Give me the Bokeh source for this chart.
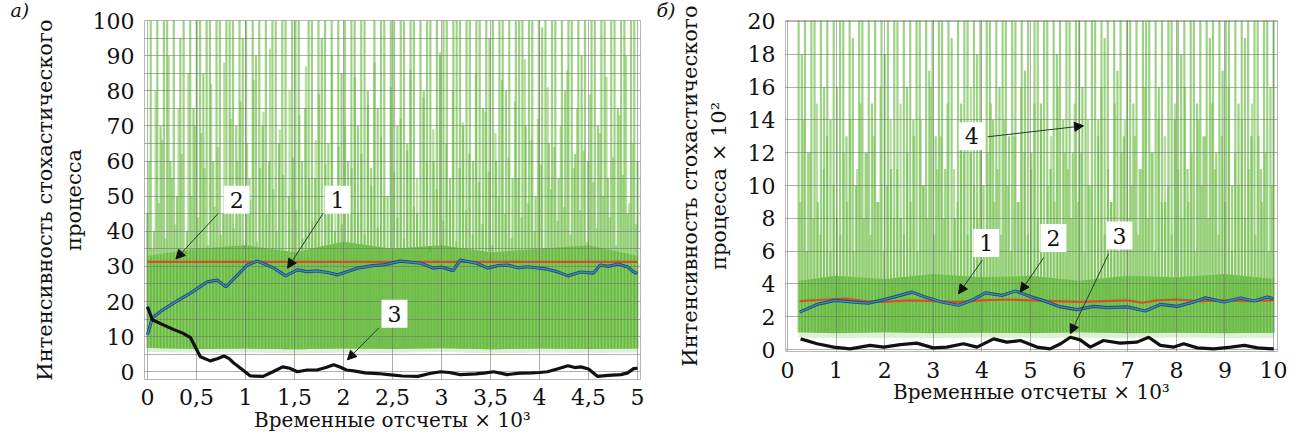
import numpy as np
from bokeh.plotting import figure
from bokeh.models import FixedTicker, Arrow, NormalHead, Label, Range1d
from bokeh.layouts import row
from bokeh.embed import file_html
from bokeh.resources import INLINE

# ---------------- panel а) ----------------
a_x_ticks = [0, 0.5, 1, 1.5, 2, 2.5, 3, 3.5, 4, 4.5, 5]
a_x_labels = ["0", "0,5", "1", "1,5", "2", "2,5", "3", "3,5", "4", "4,5", "5"]
a_y_ticks = [0, 10, 20, 30, 40, 50, 60, 70, 80, 90, 100]
a_y_grid = [0, 5, 10, 15, 20, 25, 30, 35, 40, 45, 50, 55, 60, 65, 70, 75, 80, 85, 90, 95, 100]

# green process (curve 4): tall spike peaks, evenly spaced samples over 0..5
a_spikes = [45, 110, 40, 120, 70, 115, 105, 60, 120, 50, 95, 110, 40, 115, 75,
            120, 110, 85, 115, 105, 60, 120, 118, 45, 110, 100, 120, 70, 110, 95,
            110, 55, 120, 90, 115, 70, 112, 60, 120, 100, 65, 118, 108, 50, 115,
            105, 120, 60, 75, 115, 110, 55, 120, 95, 118, 65, 110, 40, 120, 85,
            115, 60, 118, 105, 70, 120, 112, 80, 58, 116, 75, 110, 120, 50, 108,
            120, 70, 114, 118, 65, 100, 120, 45, 110, 80, 118, 106, 60, 120, 90,
            115, 110, 55, 120, 100, 118, 70, 112, 120, 60, 105, 118, 75, 120, 95,
            112, 60, 118, 106, 80, 120, 55, 114, 100, 120, 70, 116, 110, 50, 120,
            98, 118, 65, 112, 120, 55, 110, 80, 118, 106, 62, 120, 90, 115, 60,
            118, 108, 70, 120, 100, 55, 114, 120, 75, 110, 118, 45, 105, 120, 60]
# intermediate peaks between the tall ones
a_spikes2 = [60, 35, 80, 48, 66, 38, 90, 55, 42, 75, 62, 33, 85, 50, 70,
             44, 68, 58, 36, 82, 47, 64, 39, 88, 53, 72, 41, 60, 77, 35,
             65, 49, 83, 37, 58, 74, 45, 92, 52, 40, 69, 56, 34, 80, 61,
             46, 73, 38, 87, 55, 43, 66, 79, 36, 59, 48, 90, 51, 64, 42,
             70, 37, 58, 84, 45, 62, 39, 76, 53, 88, 41, 67, 50, 35, 81,
             57, 44, 72, 38, 63, 86, 47, 55, 40, 78, 60, 34, 69, 52, 91,
             43, 65, 49, 80, 37, 58, 71, 46, 62, 39, 85, 54, 42, 74, 57,
             36, 68, 50, 83, 45, 61, 38, 77, 55, 44, 89, 48, 66, 40, 72,
             59, 35, 81, 52, 64, 43, 70, 47, 86, 39, 58, 75, 46, 63, 37,
             79, 54, 41, 68, 50, 84, 44, 61, 36, 73, 56, 90, 48, 65, 42]
a_env_x = [0, 0.5, 1, 1.5, 2, 2.5, 3, 3.5, 4, 4.5, 5]
a_floor = [6.8, 6.5, 6.6, 6.4, 6.6, 6.5, 6.7, 6.4, 6.6, 6.5, 6.6]
a_pale = [5.6, 5.4, 5.5, 5.3, 5.5, 5.4, 5.6, 5.3, 5.5, 5.4, 5.5]
a_mid = [33, 35, 36, 34, 37, 35, 36, 34, 35, 36, 33]

a_red_x = [0, 5]
a_red_y = [31.3, 31.3]

a_blue_x = [0, 0.05, 0.15, 0.27, 0.44, 0.61, 0.71, 0.8, 0.92, 1.02, 1.12, 1.2, 1.29, 1.41,
            1.53, 1.63, 1.73, 1.85, 1.94, 2.05, 2.14, 2.3, 2.42, 2.58, 2.79, 2.92, 3.0,
            3.12, 3.19, 3.36, 3.47, 3.57, 3.67, 3.78, 3.88, 4.08, 4.18, 4.29, 4.42, 4.55,
            4.62, 4.7, 4.8, 4.9, 4.96, 5.0]
a_blue_y = [10.5, 15.3, 17.5, 19.6, 22.4, 25.6, 26.1, 24.2, 27.6, 30.4, 31.5, 30.6, 29.5, 27.3,
            29, 28.5, 28.7, 28.2, 27.6, 28.6, 29.5, 30.2, 30.5, 31.5, 30.9, 29.5, 29.8,
            28.8, 31.8, 30.9, 29.5, 30.2, 30.4, 29.6, 29.9, 29.2, 28.5, 27.3, 28.4, 28.1,
            30.4, 30.0, 30.7, 29.8, 28.4, 28.0]

a_black_x = [0, 0.05, 0.15, 0.27, 0.36, 0.44, 0.54, 0.64, 0.72, 0.78, 0.83, 0.88, 0.96, 1.05,
             1.18, 1.28, 1.38, 1.45, 1.53, 1.63, 1.73, 1.82, 1.9, 1.97, 2.03, 2.12, 2.22,
             2.35, 2.46, 2.6, 2.76, 2.88, 2.99, 3.08, 3.19, 3.35, 3.45, 3.53, 3.6, 3.67,
             3.8, 3.92, 4.0, 4.08, 4.18, 4.29, 4.36, 4.42, 4.5, 4.59, 4.7, 4.83, 4.9,
             4.96, 5.0]
a_black_y = [18.5, 14.8, 13.5, 12, 11, 9.7, 4.3, 3.1, 3.8, 4.5, 3.8, 2.5, 0.8, -1.2,
             -1.3, 0, 1.4, 1.0, 0, 0.5, 0.5, 1.2, 2, 1.3, 0.5, 0.2, -0.3,
             -0.5, -0.8, -1.2, -1.3, -0.5, 0, -0.2, -0.8, -0.6, -0.3, 0, -0.4, -0.8,
             -0.4, -0.3, -0.2, 0, 0.8, 1.7, 1.2, 1.4, 0.8, -1.3, -1.0, -0.8, -0.3,
             0.9, 1.0]

a_ann_text = ["2", "1", "3"]
a_ann_x = [0.91, 1.94, 2.52]
a_ann_y = [49, 49, 16.5]
a_arr_x0 = [0.72, 1.79, 2.36]
a_arr_y0 = [45, 45, 12.5]
a_arr_x1 = [0.29, 1.43, 2.04]
a_arr_y1 = [32.1, 29.5, 3.4]

# ---------------- panel б) ----------------
b_x_ticks = [0, 1, 2, 3, 4, 5, 6, 7, 8, 9, 10]
b_y_ticks = [0, 2, 4, 6, 8, 10, 12, 14, 16, 18, 20]

b_spikes = [22, 18, 24, 12, 23, 21, 9, 22, 16, 24, 14, 22, 8, 21, 23, 13, 22, 19, 10, 24,
            21, 12, 23, 15, 22, 9, 24, 18, 22, 11, 23, 20, 8, 22, 16, 24, 14, 21, 23, 10, 22, 17,
            23, 13, 21, 24, 11, 22, 19, 8, 23, 15, 22, 24, 12, 21, 18, 23, 10, 22, 24, 14, 21, 16,
            22, 24, 13, 23, 20, 9, 22, 17, 24, 12, 23, 21, 15, 22, 24, 11, 23, 18, 22, 14, 24, 20,
            12, 23, 22, 16, 24, 10, 21, 23, 14, 22, 19, 24, 9, 22, 17, 23, 13, 21, 24, 15, 22, 11,
            23, 20, 24, 12, 22, 16, 23, 9, 21, 24, 14, 22, 18, 23, 11, 24, 21, 15, 22, 13, 23, 19,
            22, 12, 24, 17, 21, 23, 10, 22, 15, 24, 19, 22, 13, 23, 21, 11, 22, 24, 16, 20]
b_spikes2 = [9, 14, 6, 12, 8, 15, 7, 11, 13, 6, 10, 16, 7, 12, 9, 14, 6, 11, 15, 8,
             12, 7, 13, 9, 16, 6, 10, 14, 8, 11, 15, 7, 12, 9, 13, 6, 14, 10, 8, 16, 7, 11,
             13, 8, 15, 6, 11, 9, 14, 12, 7, 16, 10, 8, 13, 6, 12, 15, 9, 11, 7, 14,
             10, 6, 13, 9, 16, 12, 7, 11, 15, 8, 14, 6, 10, 13, 9, 16, 7, 12, 11, 8,
             15, 9, 12, 6, 14, 10, 8, 13, 16, 7, 11, 9, 15, 6, 12, 14, 8, 10, 13, 7,
             11, 16, 8, 12, 6, 14, 9, 13, 10, 7, 15, 11, 8, 16, 9, 12, 6, 14, 10, 13,
             8, 15, 11, 7, 13, 9, 16, 6, 12, 10, 14, 8, 11, 15, 7, 13, 9, 12, 6, 10]
b_env_x = [0.23, 1, 2, 3, 4, 5, 6, 7, 8, 9, 10]
b_floor = [1.05, 1.0, 1.05, 1.0, 1.02, 1.0, 1.05, 1.0, 1.03, 1.0, 1.02]
b_pale = [0.75, 0.7, 0.72, 0.7, 0.74, 0.7, 0.72, 0.7, 0.73, 0.7, 0.72]
b_mid = [4.2, 4.5, 4.3, 4.6, 4.4, 4.5, 4.2, 4.5, 4.4, 4.6, 4.3]

b_red_x = [0.25, 0.8, 1.2, 1.6, 2.0, 2.5, 3.0, 3.5, 4.0, 4.5, 5.0, 5.5, 6.0, 6.5, 7.0, 7.3,
           7.6, 8.0, 8.5, 9.0, 9.5, 10.0]
b_red_y = [2.95, 3.05, 3.1, 2.95, 2.9, 3.0, 2.95, 2.9, 3.0, 3.05, 3.0, 2.95, 2.9, 2.95, 3.0,
           2.85, 3.0, 3.05, 2.95, 3.0, 2.95, 3.0]

b_blue_x = [0.25, 0.61, 0.98, 1.32, 1.67, 2.01, 2.32, 2.56, 2.83, 3.17, 3.52, 3.79, 4.07, 4.41,
            4.69, 5.03, 5.3, 5.62, 5.96, 6.3, 6.58, 6.99, 7.36, 7.67, 8.02, 8.36, 8.6, 8.98,
            9.32, 9.6, 9.87, 10.0]
b_blue_y = [2.28, 2.75, 3.0, 2.9, 2.83, 3.06, 3.3, 3.5, 3.2, 2.9, 2.7, 3.0, 3.45, 3.3,
            3.57, 3.2, 2.95, 2.6, 2.43, 2.63, 2.55, 2.6, 2.35, 2.75, 2.63, 2.9, 3.15, 2.9,
            3.14, 2.96, 3.2, 3.1]

b_black_x = [0.27, 0.61, 0.95, 1.29, 1.7, 1.98, 2.32, 2.66, 3.0, 3.28, 3.62, 3.9, 4.24, 4.51,
             4.79, 5.13, 5.4, 5.62, 5.82, 6.02, 6.23, 6.5, 6.84, 7.19, 7.43, 7.67, 7.95,
             8.15, 8.43, 8.77, 9.12, 9.4, 9.67, 10.0]
b_black_y = [0.65, 0.35, 0.15, 0.04, 0.25, 0.15, 0.3, 0.39, 0.1, 0.15, 0.35, 0.15, 0.65, 0.45,
             0.55, 0.15, 0.04, 0.35, 0.75, 0.59, 0.15, 0.55, 0.39, 0.45, 0.75, 0.25, 0.15,
             0.35, 0.1, 0.04, 0.15, 0.25, 0.1, 0.04]

b_ann_text = ["4", "1", "2", "3"]
b_ann_x = [3.79, 4.09, 5.47, 6.83]
b_ann_y = [13.0, 6.5, 6.8, 6.95]
b_arr_x0 = [4.12, 4.01, 5.27, 6.61]
b_arr_y0 = [12.97, 5.45, 5.6, 5.85]
b_arr_x1 = [6.09, 3.52, 4.79, 5.82]
b_arr_y1 = [13.64, 3.4, 3.5, 0.97]

YLABEL_A = "Интенсивность стохастического\nпроцесса"
YLABEL_B = "Интенсивность стохастического\nпроцесса × 10²"
XLABEL = "Временные отсчеты × 10³"

SERIF = "DejaVu Serif"
GREEN = "#62b83c"
GREEN_LIGHT = "#9ed47e"


def make_panel(width, height, xr, yr, borders, xticks, xlabels, yticks, gx, gy, ylabel,
               sx0, sx1, spikes, spikes2, env_x, pale, floor, mid,
               red_x, red_y, blue_x, blue_y, black_x, black_y,
               ann_t, ann_x, ann_y, ax0, ay0, ax1, ay1, tag, tag_offset,
               tick_stand, xstand, ystand):
    p = figure(width=width, height=height, output_backend="svg", toolbar_location=None,
               x_range=Range1d(*xr), y_range=Range1d(*yr))
    p.min_border_left, p.min_border_right, p.min_border_top, p.min_border_bottom = borders
    p.background_fill_color = "white"
    p.outline_line_color = "#b8b8b8"
    p.outline_line_width = 1

    # panel tag (а) / б)) as a left-aligned title pulled into the left margin
    p.title.text = tag
    p.title.align = "left"
    p.title.offset = tag_offset
    p.title.standoff = 0
    p.title.text_font = SERIF
    p.title.text_font_style = "italic"
    p.title.text_font_size = "19px"
    p.title.text_color = "#111111"

    for ax in (p.xaxis[0], p.yaxis[0]):
        ax.axis_line_color = None
        ax.major_tick_line_color = None
        ax.minor_tick_line_color = None
        ax.major_label_text_font = SERIF
        ax.major_label_text_font_size = "22px"
        ax.major_label_text_color = "#111111"
        ax.axis_label_text_font = SERIF
        ax.axis_label_text_font_style = "normal"
        ax.axis_label_text_color = "#111111"
    p.xaxis.axis_label_text_font_size = "20px"
    p.yaxis.axis_label_text_font_size = "21px"
    p.xaxis.major_label_standoff = tick_stand
    p.yaxis.major_label_standoff = 4
    p.xaxis.ticker = FixedTicker(ticks=xticks)
    if xlabels is not None:
        p.xaxis.major_label_overrides = {t: l for t, l in zip(xticks, xlabels)}
    p.yaxis.ticker = FixedTicker(ticks=yticks)
    p.xaxis.axis_label = XLABEL
    p.yaxis.axis_label = ylabel
    p.xaxis.axis_label_standoff = xstand
    p.yaxis.axis_label_standoff = ystand

    p.xgrid.ticker = FixedTicker(ticks=gx)
    p.ygrid.ticker = FixedTicker(ticks=gy)
    for g in (p.xgrid[0], p.ygrid[0]):
        g.grid_line_color = "#6f6f6f"
        g.grid_line_alpha = 0.55
        g.grid_line_width = 1
        g.level = "guide"

    # green stochastic process (curve 4)
    n = len(spikes)
    xs = np.linspace(sx0, sx1, n)
    step = (sx1 - sx0) / (n - 1)
    xs2 = np.linspace(sx0 + step / 2, sx1 - step / 2, len(spikes2))
    p.varea(x=env_x, y1=pale, y2=floor, fill_color=GREEN, fill_alpha=0.22)
    p.varea(x=env_x, y1=floor, y2=mid, fill_color=GREEN, fill_alpha=0.95)
    p.segment(x0=xs2, y0=np.interp(xs2, env_x, floor), x1=xs2, y1=spikes2,
              line_color=GREEN_LIGHT, line_width=2.2, line_alpha=0.75)
    p.segment(x0=xs, y0=np.interp(xs, env_x, floor), x1=xs, y1=spikes,
              line_color=GREEN, line_width=2.2, line_alpha=0.62)

    r1 = p.line(red_x, red_y, line_color="#d2502a", line_width=2.2)
    r2 = p.line(blue_x, blue_y, line_color="#1f4f78", line_width=3.2)
    r3 = p.line(blue_x, blue_y, line_color="#3f86b5", line_width=1.4)
    r4 = p.line(black_x, black_y, line_color="#111111", line_width=3.2)
    for r in (r1, r2, r3, r4):
        r.level = "annotation"

    for t, x, y, x0, y0, x1, y1 in zip(ann_t, ann_x, ann_y, ax0, ay0, ax1, ay1):
        p.add_layout(Arrow(x_start=x0, y_start=y0, x_end=x1, y_end=y1,
                           line_color="#2a3a2a", line_width=1,
                           end=NormalHead(size=9, fill_color="#111111", line_color="#111111")))
        p.add_layout(Label(x=x, y=y, text=t, text_align="center", text_baseline="middle",
                           text_font=SERIF, text_font_size="22px", text_color="#111111",
                           background_fill_color="white", padding=6))
    return p


TOP = 25      # title panel height (minimum)
BOTTOM = 60
SHIFT = 5     # row pulled up a little so the frames start near the reference position
pa = make_panel(650, 379 + SHIFT + BOTTOM, (-0.03, 5.03), (-2.2, 100), (144, 10, TOP, BOTTOM),
                a_x_ticks, a_x_labels, a_y_ticks, a_x_ticks, a_y_grid,
                YLABEL_A, 0, 5, a_spikes, a_spikes2, a_env_x, a_pale, a_floor, a_mid,
                a_red_x, a_red_y, a_blue_x, a_blue_y, a_black_x, a_black_y,
                a_ann_text, a_ann_x, a_ann_y, a_arr_x0, a_arr_y0, a_arr_x1, a_arr_y1,
                "а)", -134, 3, 0, 4)

pb = make_panel(640, 351 + SHIFT + BOTTOM, (-0.04, 10.08), (-0.12, 20.06), (135, 13, TOP, BOTTOM),
                b_x_ticks, None, b_y_ticks, b_x_ticks, b_y_ticks,
                YLABEL_B, 0.23, 10, b_spikes, b_spikes2, b_env_x, b_pale, b_floor, b_mid,
                b_red_x, b_red_y, b_blue_x, b_blue_y, b_black_x, b_black_y,
                b_ann_text, b_ann_x, b_ann_y, b_arr_x0, b_arr_y0, b_arr_x1, b_arr_y1,
                "б)", -129, 4, -1, 14)

layout = row(pa, pb, margin=(-SHIFT, 0, 0, 0))
open("out.html", "w").write(file_html(layout, INLINE))
